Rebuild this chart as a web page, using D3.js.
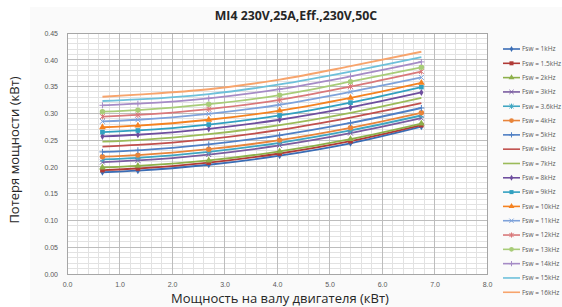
<!DOCTYPE html>
<html><head><meta charset="utf-8">
<script src="https://cdn.jsdelivr.net/npm/d3@7"></script>
<style>body{margin:0;background:#fff;}svg{display:block;font-family:"Open Sans","Noto Sans",sans-serif;}</style>
</head><body>
<svg id="c" width="562" height="307"></svg>
<script>
const title = "MI4 230V,25A,Eff.,230V,50C";
const xTitle = "Мощность на валу двигателя (кВт)";
const yTitle = "Потеря мощности (кВт)";
const xValues = [0.675, 1.35, 2.7, 4.05, 5.4, 6.75];
const xTicks = [0,1,2,3,4,5,6,7,8];
const yTicks = [0,0.05,0.10,0.15,0.20,0.25,0.30,0.35,0.40,0.45];
const seriesNames = ["Fsw = 1kHz","Fsw = 1.5kHz","Fsw = 2kHz","Fsw = 3kHz","Fsw = 3.6kHz","Fsw = 4kHz","Fsw = 5kHz","Fsw = 6kHz","Fsw = 7kHz","Fsw = 8kHz","Fsw = 9kHz","Fsw = 10kHz","Fsw = 11kHz","Fsw = 12kHz","Fsw = 13kHz","Fsw = 14kHz","Fsw = 15kHz","Fsw = 16kHz"];
const s1k   = [0.190, 0.193, 0.204, 0.221, 0.244, 0.275];
const s1_5k = [0.194, 0.197, 0.208, 0.225, 0.248, 0.278];
const s2k   = [0.199, 0.202, 0.212, 0.229, 0.252, 0.281];
const s3k   = [0.209, 0.212, 0.223, 0.240, 0.263, 0.291];
const s3_6k = [0.214, 0.217, 0.228, 0.245, 0.268, 0.296];
const s4k   = [0.219, 0.222, 0.233, 0.250, 0.273, 0.301];
const s5k   = [0.228, 0.231, 0.242, 0.259, 0.282, 0.310];
const s6k   = [0.238, 0.241, 0.252, 0.269, 0.292, 0.319];
const s7k   = [0.247, 0.250, 0.261, 0.278, 0.301, 0.329];
const s8k   = [0.257, 0.260, 0.271, 0.288, 0.311, 0.339];
const s9k   = [0.265, 0.268, 0.279, 0.296, 0.320, 0.349];
const s10k  = [0.274, 0.277, 0.288, 0.305, 0.329, 0.357];
const s11k  = [0.285, 0.288, 0.299, 0.316, 0.340, 0.367];
const s12k  = [0.294, 0.297, 0.308, 0.325, 0.350, 0.378];
const s13k  = [0.303, 0.306, 0.317, 0.334, 0.359, 0.386];
const s14k  = [0.315, 0.318, 0.328, 0.345, 0.369, 0.396];
const s15k  = [0.323, 0.326, 0.336, 0.354, 0.378, 0.405];
const s16k  = [0.331, 0.335, 0.345, 0.363, 0.388, 0.415];
const seriesValues = [s1k,s1_5k,s2k,s3k,s3_6k,s4k,s5k,s6k,s7k,s8k,s9k,s10k,s11k,s12k,s13k,s14k,s15k,s16k];

const colors = ["#3A6DB5","#B03A36","#8DB04A","#7A5CA0","#3FA6C2","#E8843A","#4F7FC4","#C0504D","#9BBB59","#6E4E9E","#31A0C0","#F58220","#7EA2DA","#D9787A","#A8CC78","#A58BC6","#6EC0DA","#F7A46C"];
const markers = ["diamond","square","triangle","x","star","circle","plus",null,null,"diamond","square","triangle","x","star","circle","plus",null,null];

const svg = d3.select("#c");
svg.append("rect").attr("x",30).attr("y",7).attr("width",532).attr("height",300).attr("fill","#FAFAFA");

const m = {l:67, r:487, t:33, b:274};
const x = d3.scaleLinear().domain([0,8]).range([m.l,m.r]);
const y = d3.scaleLinear().domain([0,0.45]).range([m.b,m.t]);

svg.append("rect").attr("x",m.l).attr("y",m.t).attr("width",m.r-m.l).attr("height",m.b-m.t).attr("fill","#fff");

// minor grid
const g = svg.append("g");
d3.range(0, 8.0001, 0.2).forEach(v=>{
  g.append("line").attr("x1",x(v)).attr("x2",x(v)).attr("y1",m.t).attr("y2",m.b).attr("stroke","#E2E2E2").attr("stroke-width",1).attr("shape-rendering","crispEdges");
});
d3.range(0, 0.4501, 0.01).forEach(v=>{
  g.append("line").attr("x1",m.l).attr("x2",m.r).attr("y1",y(v)).attr("y2",y(v)).attr("stroke","#E2E2E2").attr("stroke-width",1).attr("shape-rendering","crispEdges");
});
// major grid
xTicks.forEach(v=>{
  g.append("line").attr("x1",x(v)).attr("x2",x(v)).attr("y1",m.t).attr("y2",m.b).attr("stroke","#BDBDBD").attr("stroke-width",1).attr("shape-rendering","crispEdges");
});
yTicks.forEach(v=>{
  g.append("line").attr("x1",m.l).attr("x2",m.r).attr("y1",y(v)).attr("y2",y(v)).attr("stroke","#BDBDBD").attr("stroke-width",1).attr("shape-rendering","crispEdges");
});
svg.append("rect").attr("x",m.l).attr("y",m.t).attr("width",m.r-m.l).attr("height",m.b-m.t).attr("fill","none").attr("stroke","#A6A6A6").attr("shape-rendering","crispEdges");

// axes
const xAxis = d3.axisBottom(x).tickValues(xTicks).tickFormat(d3.format(".1f")).tickSize(0).tickPadding(8);
const yAxis = d3.axisLeft(y).tickValues(yTicks).tickFormat(d3.format(".2f")).tickSize(0).tickPadding(9);
const gx = svg.append("g").attr("transform",`translate(0,${m.b})`).call(xAxis);
const gy = svg.append("g").attr("transform",`translate(${m.l},0)`).call(yAxis);
[gx,gy].forEach(a=>{a.select(".domain").remove();a.selectAll("text").attr("fill","#595959").style("font-size","7px");});

// titles
svg.append("text").attr("x",296).attr("y",20).attr("text-anchor","middle").style("font-size","12.3px").style("font-weight","bold").attr("fill","#262626").text(title);
svg.append("text").attr("x",280).attr("y",303).attr("text-anchor","middle").style("font-size","13px").attr("fill","#262626").text(xTitle);
svg.append("text").attr("transform","translate(19,150) rotate(-90)").attr("text-anchor","middle").style("font-size","13px").attr("fill","#262626").text(yTitle);

function drawMarker(sel, type, cx, cy, col, s){
  if(!type) return;
  const r = s;
  if(type==="diamond"){
    sel.append("path").attr("d",d3.symbol(d3.symbolDiamond, r*r*1.6)()).attr("transform",`translate(${cx},${cy})`).attr("fill",col);
  } else if(type==="square"){
    sel.append("path").attr("d",d3.symbol(d3.symbolSquare, r*r*2.4)()).attr("transform",`translate(${cx},${cy})`).attr("fill",col);
  } else if(type==="triangle"){
    sel.append("path").attr("d",d3.symbol(d3.symbolTriangle, r*r*2.2)()).attr("transform",`translate(${cx},${cy})`).attr("fill",col);
  } else if(type==="circle"){
    sel.append("path").attr("d",d3.symbol(d3.symbolCircle, r*r*2.6)()).attr("transform",`translate(${cx},${cy})`).attr("fill",col);
  } else if(type==="x"){
    const d=r*0.8;
    sel.append("path").attr("d",`M${cx-d},${cy-d}L${cx+d},${cy+d}M${cx-d},${cy+d}L${cx+d},${cy-d}`).attr("stroke",col).attr("stroke-width",1).attr("fill","none");
  } else if(type==="star"){
    const d=r*0.8;
    sel.append("path").attr("d",`M${cx-d},${cy-d}L${cx+d},${cy+d}M${cx-d},${cy+d}L${cx+d},${cy-d}M${cx},${cy-r}L${cx},${cy+r}`).attr("stroke",col).attr("stroke-width",1).attr("fill","none");
  } else if(type==="plus"){
    sel.append("path").attr("d",`M${cx-r},${cy}L${cx+r},${cy}M${cx},${cy-r}L${cx},${cy+r}`).attr("stroke",col).attr("stroke-width",1).attr("fill","none");
  }
}

const line = d3.line().x((d,i)=>x(xValues[i])).y(d=>y(d)).curve(d3.curveMonotoneX);
const sg = svg.append("g");
seriesValues.forEach((vals,k)=>{
  sg.append("path").attr("d",line(vals)).attr("fill","none").attr("stroke",colors[k]).attr("stroke-width",1.8);
});
seriesValues.forEach((vals,k)=>{
  vals.forEach((v,i)=>drawMarker(sg, markers[k], x(xValues[i]), y(v), colors[k], 3));
});

// legend
const lg = svg.append("g");
seriesNames.forEach((n,k)=>{
  const yy = 49 + k*14.31;
  lg.append("line").attr("x1",503).attr("x2",520).attr("y1",yy).attr("y2",yy).attr("stroke",colors[k]).attr("stroke-width",1.6);
  drawMarker(lg, markers[k], 511.5, yy, colors[k], 2.6);
  lg.append("text").attr("x",522).attr("y",yy+2.3).style("font-size","6.5px").attr("fill","#595959").text(n);
});
</script>
</body></html>
